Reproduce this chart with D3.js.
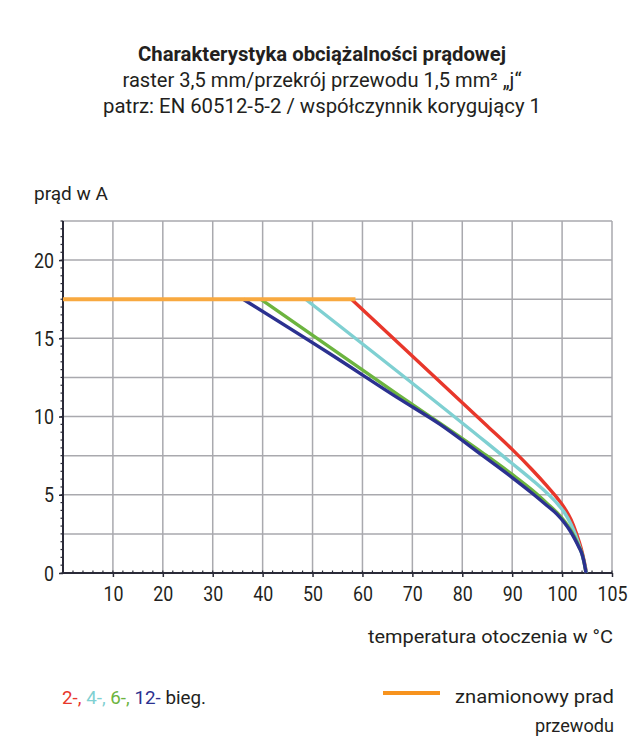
<!DOCTYPE html>
<html>
<head>
<meta charset="utf-8">
<script src="https://cdn.jsdelivr.net/npm/d3@7"></script>
<style>
  html, body { margin: 0; padding: 0; background: #fff; }
  svg { display: block; font-family: Roboto, "Liberation Sans", sans-serif; }
</style>
</head>
<body>
<svg id="chart" width="642" height="753"></svg>
<script>
// ---------- data ----------
const titleLines = [
  "Charakterystyka obciążalności prądowej",
  "raster 3,5 mm/przekrój przewodu 1,5 mm² „j“",
  "patrz: EN 60512-5-2 / współczynnik korygujący 1"
];
const yAxisTitle = "prąd w A";
const xAxisTitle = "temperatura otoczenia w °C";

const xTickValues = [10, 20, 30, 40, 50, 60, 70, 80, 90, 100, 110];
const xTickLabels = ["10", "20", "30", "40", "50", "60", "70", "80", "90", "100", "105"];
const yTickValues = [0, 5, 10, 15, 20];
const yTickLabels = ["0", "5", "10", "15", "20"];

const seriesNames = ["2-", "4-", "6-", "12-"];
const seriesColors = ["#e8372b", "#7fd0d2", "#6cb43f", "#2b3190"];

// [temperature, current]
const red2 = [[57.8,17.5],[85,9.4],[90,7.9],[94,6.6],[97,5.55],[99,4.8],[100.5,4.15],[101.8,3.4],[102.9,2.5],[103.8,1.6],[104.4,0.8],[104.9,0]];
const cyan4 = [[48.6,17.5],[85,8.3],[90,7.0],[94,5.95],[97,5.1],[99,4.45],[100.5,3.85],[101.8,3.1],[102.8,2.35],[103.7,1.5],[104.4,0.7],[104.9,0]];
const green6 = [[39.6,17.5],[67.4,11.34],[84,7.7],[90,6.3],[94,5.3],[97,4.45],[99,3.85],[100.5,3.3],[101.6,2.8],[102.5,2.3],[103.3,1.75],[104,1.25],[104.4,0.7],[104.8,0]];
const blue12 = [[36.1,17.5],[53.4,14.03],[67.4,11.13],[75.4,9.53],[84.1,7.5],[90,6.1],[94,5.1],[97,4.3],[99,3.75],[100.5,3.2],[101.6,2.7],[102.5,2.2],[103.3,1.7],[104,1.2],[104.4,0.7],[104.8,0]];
const ratedCurrent = [[0,17.5],[58.6,17.5]];

const legendRated = ["znamionowy prad", "przewodu"];
const legendSuffix = " bieg.";

// ---------- layout ----------
const svg = d3.select("#chart");
const textColor = "#231f20";
const plot = { left: 63, right: 612, top: 221, bottom: 573 };

const x = d3.scaleLinear().domain([0, 110]).range([plot.left, plot.right]);
const y = d3.scaleLinear().domain([0, 22.5]).range([plot.bottom, plot.top]);

// title
const titleLens = [368, 399, 438];
const titleBase = [61, 87, 113];
titleLines.forEach((t, i) => {
  svg.append("text")
    .attr("x", 322).attr("y", titleBase[i])
    .attr("text-anchor", "middle")
    .attr("font-size", 20)
    .attr("font-weight", i === 0 ? 700 : 400)
    .attr("fill", textColor)
    .attr("textLength", titleLens[i])
    .attr("lengthAdjust", "spacingAndGlyphs")
    .text(t);
});

// grid
const g = svg.append("g");
const gridColor = "#a9a9ae";
g.selectAll(".vgrid").data(xTickValues).join("line")
  .attr("x1", d => x(d)).attr("x2", d => x(d))
  .attr("y1", y(22.5)).attr("y2", y(0))
  .attr("stroke", gridColor).attr("stroke-width", 1.5);
g.selectAll(".hgrid").data(d3.range(2.5, 22.51, 2.5)).join("line")
  .attr("x1", x(0)).attr("x2", x(110))
  .attr("y1", d => y(d)).attr("y2", d => y(d))
  .attr("stroke", gridColor).attr("stroke-width", 1.5);

// axes
const axisColor = "#2a2a38";
const xAxis = d3.axisBottom(x)
  .tickValues(xTickValues)
  .tickFormat((d, i) => xTickLabels[i])
  .tickSize(4).tickPadding(6);
const xg = svg.append("g").attr("transform", `translate(0,${plot.bottom})`).call(xAxis);
xg.select(".domain").attr("stroke", axisColor).attr("stroke-width", 2).attr("d", `M${plot.left},0H${plot.right}`);
xg.selectAll(".tick line").attr("stroke", axisColor).attr("stroke-width", 1.5);
xg.selectAll(".tick text").attr("font-size", 20).attr("fill", textColor)
  .attr("font-family", "Roboto, sans-serif").attr("dy", "0.9em")
  .attr("textLength", function() { return this.textContent.length * 10; })
  .attr("lengthAdjust", "spacingAndGlyphs");

const yAxis = d3.axisLeft(y)
  .tickValues(yTickValues)
  .tickFormat((d, i) => yTickLabels[i])
  .tickSize(4).tickPadding(5);
const yg = svg.append("g").attr("transform", `translate(${plot.left},0)`).call(yAxis);
yg.select(".domain").attr("stroke", axisColor).attr("stroke-width", 2).attr("d", `M0,${plot.top}V${plot.bottom}`);
yg.selectAll(".tick line").attr("stroke", axisColor).attr("stroke-width", 1.5);
yg.selectAll(".tick text").attr("font-size", 20).attr("fill", textColor)
  .attr("font-family", "Roboto, sans-serif").attr("dy", "0.36em")
  .attr("textLength", function() { return this.textContent.length * 10; })
  .attr("lengthAdjust", "spacingAndGlyphs");

// minor ticks
svg.append("g").selectAll("line").data(d3.range(0, 110.01, 2)).join("line")
  .attr("x1", d => x(d)).attr("x2", d => x(d))
  .attr("y1", plot.bottom - 2.5).attr("y2", plot.bottom)
  .attr("stroke", axisColor).attr("stroke-width", 1.2);
svg.append("g").selectAll("line").data(d3.range(0, 22.51, 0.5)).join("line")
  .attr("x1", plot.left - 2.5).attr("x2", plot.left)
  .attr("y1", d => y(d)).attr("y2", d => y(d))
  .attr("stroke", axisColor).attr("stroke-width", 1.2);

// axis titles
svg.append("text").attr("x", 34).attr("y", 200)
  .attr("font-size", 19).attr("fill", textColor)
  .attr("textLength", 74).attr("lengthAdjust", "spacingAndGlyphs")
  .text(yAxisTitle);
svg.append("text").attr("x", 368).attr("y", 643)
  .attr("font-size", 19).attr("fill", textColor)
  .attr("textLength", 245).attr("lengthAdjust", "spacingAndGlyphs")
  .text(xAxisTitle);

// curves
const curveLine = d3.line()
  .x(d => x(d[0])).y(d => y(d[1]))
  .curve(d3.curveMonotoneX);
const lineLin = d3.line().x(d => x(d[0])).y(d => y(d[1]));
const curvesG = svg.append("g");
[red2, cyan4, green6, blue12].forEach((s, i) => {
  curvesG.append("path")
    .attr("d", curveLine(s))
    .attr("fill", "none")
    .attr("stroke", seriesColors[i])
    .attr("stroke-width", 3.4)
    .attr("stroke-linejoin", "round");
});
const ratedColor = "#f8a940";
curvesG.append("path")
  .attr("d", lineLin(ratedCurrent))
  .attr("fill", "none").attr("stroke", ratedColor).attr("stroke-width", 4);

// legend
const leg = svg.append("text").attr("x", 62).attr("y", 704)
  .attr("font-size", 19).attr("fill", textColor)
  .attr("textLength", 144).attr("lengthAdjust", "spacingAndGlyphs");
seriesNames.forEach((n, i) => {
  leg.append("tspan").attr("fill", seriesColors[i]).text(n + (i < seriesNames.length - 1 ? ", " : ""));
});
leg.append("tspan").attr("fill", textColor).text(legendSuffix);

svg.append("line").attr("x1", 383).attr("x2", 440).attr("y1", 693).attr("y2", 693)
  .attr("stroke", "#f7931e").attr("stroke-width", 4);
svg.append("text").attr("x", 614).attr("y", 703).attr("text-anchor", "end")
  .attr("font-size", 19).attr("fill", textColor)
  .attr("textLength", 159).attr("lengthAdjust", "spacingAndGlyphs")
  .text(legendRated[0]);
svg.append("text").attr("x", 614).attr("y", 732).attr("text-anchor", "end")
  .attr("font-size", 19).attr("fill", textColor)
  .attr("textLength", 79).attr("lengthAdjust", "spacingAndGlyphs")
  .text(legendRated[1]);
</script>
</body>
</html>
